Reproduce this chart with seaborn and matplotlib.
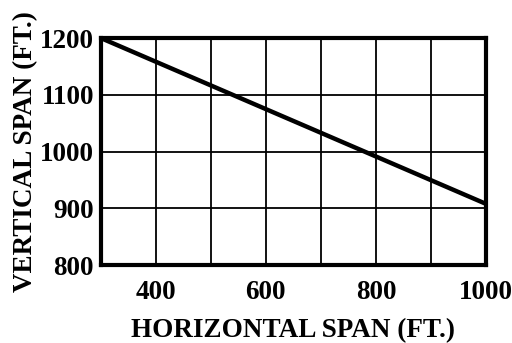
import matplotlib
matplotlib.use("Agg")
import matplotlib.pyplot as plt
import seaborn as sns
import pandas as pd

# Span limit line: vertical span allowed versus horizontal span
horizontal_span = [300, 1000]
vertical_span = [1200, 908]

x_major = [400, 600, 800, 1000]
x_minor = [300, 500, 700, 900]
y_ticks = [800, 900, 1000, 1100, 1200]

sns.set_style("white")
plt.rcParams["font.family"] = ["Liberation Serif", "DejaVu Serif"]
plt.rcParams["font.weight"] = "bold"
plt.rcParams["text.color"] = "black"
plt.rcParams["axes.labelcolor"] = "black"
plt.rcParams["xtick.color"] = "black"
plt.rcParams["ytick.color"] = "black"

df = pd.DataFrame({"h": horizontal_span, "v": vertical_span})

fig = plt.figure(figsize=(5.12, 3.43), dpi=100)
ax = fig.add_axes([0.197, 0.227, 0.752, 0.662])

sns.lineplot(data=df, x="h", y="v", ax=ax, color="black", linewidth=3.2, zorder=3)

ax.set_xlim(300, 1000)
ax.set_ylim(800, 1200)
ax.set_xticks(x_major)
ax.set_xticks(x_minor, minor=True)
ax.set_yticks(y_ticks)
ax.set_xticklabels([str(v) for v in x_major], fontsize=19.5, fontweight="bold", color="black")
ax.set_yticklabels([str(v) for v in y_ticks], fontsize=19.5, fontweight="bold", color="black")
ax.tick_params(axis="both", which="both", length=0)
ax.tick_params(axis="x", pad=11)
ax.tick_params(axis="y", pad=5)

ax.grid(True, which="both", color="black", linewidth=1.3)
ax.set_axisbelow(True)
for s in ax.spines.values():
    s.set_color("black")
    s.set_linewidth(3.0)
    s.set_zorder(4)

ax.set_xlabel("HORIZONTAL SPAN (FT.)", fontsize=19.5, fontweight="bold", labelpad=9, color="black")
ax.set_ylabel("VERTICAL SPAN (FT.)", fontsize=19.5, fontweight="bold", labelpad=1, color="black")

fig.savefig("out.png", dpi=100)
